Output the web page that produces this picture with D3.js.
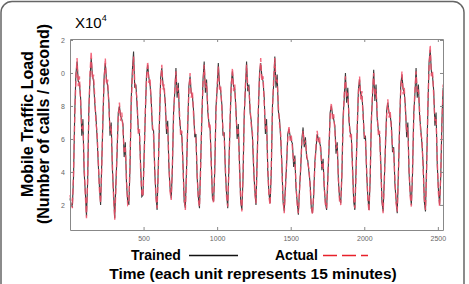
<!DOCTYPE html>
<html>
<head>
<meta charset="utf-8">
<script src="https://cdn.jsdelivr.net/npm/d3@7"></script>
<style>
  body { margin: 0; background: #fff; }
  svg { display: block; font-family: "Liberation Sans", Arial, sans-serif; }
</style>
</head>
<body>
<svg width="469" height="284"></svg>
<script>
// one sample every 8 time units (15 min each), values in units of 10^4 calls/s
const step = 8;

const actual = [
  2.6, 2.2,
  1.8, 3.9, 7.2, 9.6, 10.9, 9.2, 9.8, 8.3, 6.6, 6.9, 4.4, 2.6,
  1.2, 3.6, 7.4, 10.0, 11.3, 9.6, 9.9, 8.6, 7.0, 6.4, 4.8, 2.9,
  2.1, 4.3, 7.5, 9.5, 10.9, 9.3, 9.6, 8.0, 6.5, 6.8, 4.5, 2.5,
  1.1, 3.0, 5.4, 7.3, 8.2, 7.1, 7.6, 6.6, 5.2, 5.5, 3.6, 2.0,
  2.1, 4.6, 8.0, 9.8, 11.0, 9.5, 9.0, 8.4, 6.3, 6.6, 4.1, 2.7,
  2.5, 4.8, 7.8, 9.6, 10.7, 9.4, 9.7, 8.1, 6.9, 6.2, 4.3, 2.4,
  1.8, 4.0, 7.3, 9.4, 10.5, 9.0, 9.3, 7.9, 6.6, 6.8, 4.6, 2.8,
  2.3, 4.5, 7.4, 9.0, 10.1, 8.8, 9.1, 7.6, 6.2, 6.5, 4.2, 2.4,
  1.7, 3.9, 7.0, 8.9, 10.0, 8.5, 8.9, 7.4, 6.4, 6.0, 4.0, 2.3,
  1.9, 4.2, 7.5, 9.3, 10.5, 9.1, 9.4, 8.0, 6.7, 6.9, 4.4, 2.6,
  2.1, 4.4, 7.6, 9.2, 10.4, 9.0, 9.2, 7.8, 6.5, 6.1, 4.3, 2.5,
  1.9, 4.1, 7.3, 9.1, 10.3, 8.9, 9.3, 7.5, 6.3, 6.6, 4.2, 2.4,
  1.6, 3.9, 7.2, 9.3, 10.5, 9.2, 9.0, 7.9, 6.8, 6.4, 4.5, 2.7,
  2.1, 4.5, 7.9, 9.7, 10.9, 9.5, 9.8, 8.2, 6.6, 6.9, 4.4, 2.5,
  2.0, 4.3, 7.7, 9.6, 10.9, 9.4, 9.6, 8.0, 6.9, 6.3, 4.2, 2.3,
  1.5, 2.9, 4.6, 6.0, 6.8, 5.9, 6.2, 5.4, 4.6, 4.8, 3.3, 2.0,
  1.5, 2.8, 4.4, 5.8, 6.5, 5.7, 5.9, 5.1, 4.5, 4.2, 3.1, 1.9,
  1.4, 2.7, 4.3, 5.6, 6.5, 5.8, 6.1, 5.2, 4.3, 4.6, 3.2, 2.0,
  1.8, 3.4, 5.6, 7.3, 8.2, 7.2, 7.5, 6.5, 5.4, 5.6, 3.7, 2.2,
  2.0, 4.0, 7.0, 8.8, 9.8, 8.5, 8.8, 7.4, 6.1, 6.4, 4.1, 2.4,
  1.8, 3.8, 6.8, 8.7, 9.8, 8.4, 8.9, 7.3, 6.3, 5.9, 4.2, 2.3,
  1.6, 3.7, 6.9, 8.9, 10.0, 8.6, 9.0, 7.5, 6.2, 6.5, 4.3, 2.4,
  1.5, 3.3, 5.8, 7.4, 8.4, 7.3, 7.7, 6.6, 5.5, 5.2, 3.6, 2.1,
  1.6, 3.8, 7.0, 9.0, 10.1, 8.7, 9.1, 7.6, 6.4, 6.7, 4.3, 2.5,
  1.9, 4.1, 7.2, 9.0, 10.1, 8.8, 9.0, 7.7, 6.3, 6.0, 4.2, 2.4,
  1.7, 4.2, 8.0, 10.3, 11.7, 9.8, 10.1, 8.6, 7.1, 7.3, 4.7, 2.7,
  1.9, 4.0, 6.9, 9.3
];

const trained = [
  2.4, 2.0,
  1.9, 3.7, 7.5, 9.9, 10.7, 9.5, 9.4, 8.5, 6.2, 7.2, 4.0, 2.8,
  1.3, 3.4, 7.8, 9.7, 10.9, 9.9, 9.5, 8.2, 7.4, 6.1, 4.5, 3.1,
  2.0, 4.6, 7.2, 9.8, 10.6, 9.6, 9.2, 8.3, 6.2, 7.0, 4.2, 2.7,
  1.2, 3.3, 5.1, 7.6, 8.0, 7.4, 7.2, 6.9, 4.9, 5.8, 3.3, 2.2,
  2.0, 4.3, 8.4, 10.2, 11.3, 9.1, 9.3, 8.0, 6.6, 6.3, 4.4, 2.5,
  2.6, 5.1, 7.5, 9.9, 10.5, 9.7, 9.3, 8.4, 6.6, 6.5, 4.0, 2.6,
  1.7, 4.3, 7.0, 9.7, 10.3, 9.3, 9.0, 8.2, 6.3, 7.1, 4.3, 3.0,
  2.4, 4.2, 7.7, 8.8, 10.3, 8.5, 9.4, 7.3, 6.5, 6.2, 4.5, 2.2,
  1.8, 4.2, 6.7, 9.2, 9.8, 8.8, 8.6, 7.7, 6.1, 6.3, 3.7, 2.5,
  1.8, 4.5, 7.2, 9.6, 10.7, 8.8, 9.6, 7.7, 7.0, 6.6, 4.7, 2.4,
  2.2, 4.1, 7.9, 9.0, 10.6, 9.3, 8.9, 8.1, 6.2, 6.4, 4.0, 2.7,
  1.8, 4.4, 7.0, 9.4, 10.1, 9.2, 9.0, 7.8, 6.0, 6.9, 4.5, 2.2,
  1.7, 3.6, 7.5, 9.0, 10.7, 8.9, 9.3, 7.6, 7.1, 6.1, 4.2, 2.9,
  2.0, 4.8, 7.6, 10.0, 10.6, 9.8, 9.5, 8.5, 6.3, 7.2, 4.1, 2.7,
  2.1, 4.0, 8.0, 9.3, 11.0, 9.1, 9.9, 7.7, 7.2, 6.0, 4.5, 2.2,
  1.6, 3.1, 4.4, 6.3, 6.6, 6.2, 5.9, 5.7, 4.3, 5.0, 3.0, 2.2,
  1.4, 3.0, 4.2, 6.0, 6.7, 5.5, 6.1, 4.9, 4.7, 4.0, 3.3, 1.8,
  1.5, 2.5, 4.6, 5.4, 6.3, 6.0, 5.8, 5.5, 4.1, 4.8, 3.0, 2.1,
  1.7, 3.6, 5.3, 7.6, 8.0, 7.5, 7.2, 6.8, 5.1, 5.8, 3.5, 2.4,
  2.1, 3.8, 7.3, 8.5, 10.0, 8.2, 9.1, 7.1, 6.4, 6.1, 4.4, 2.2,
  1.7, 4.1, 6.5, 9.0, 9.6, 8.7, 8.6, 7.6, 6.0, 6.2, 3.9, 2.5,
  1.7, 3.5, 7.2, 8.6, 10.2, 8.3, 9.3, 7.2, 6.5, 6.2, 4.6, 2.2,
  1.6, 3.5, 5.5, 7.7, 8.2, 7.6, 7.4, 6.9, 5.2, 5.5, 3.3, 2.3,
  1.5, 4.0, 6.7, 9.3, 9.9, 9.0, 8.8, 7.9, 6.1, 7.0, 4.0, 2.7,
  2.0, 3.9, 7.5, 8.7, 10.3, 8.5, 9.3, 7.4, 6.6, 5.7, 4.5, 2.2,
  1.6, 4.5, 7.7, 10.6, 11.4, 10.1, 9.8, 8.9, 6.8, 7.6, 4.4, 2.9,
  2.0, 3.8, 7.2, 9.1
];

const xTicks = [500, 1000, 1500, 2000, 2500];
const yTicks = [2, 4, 6, 8, 10, 12];
const yTickLabels = ["2", "4", "6", "8", "0", "2"];

const svg = d3.select("svg");
const plotLeft = 70, plotRight = 443, plotTop = 39, plotBottom = 230;

const x = d3.scaleLinear().domain([0, 2535]).range([plotLeft, plotRight]);
const y = d3.scaleLinear().domain([0.48, 12.06]).range([plotBottom, plotTop]);

// outer rounded frame (bottom edge falls outside the picture)
svg.append("rect")
  .attr("x", 1).attr("y", 1.5)
  .attr("width", 463).attr("height", 360)
  .attr("rx", 11)
  .attr("fill", "none")
  .attr("stroke", "#666")
  .attr("stroke-width", 1.5);

// series
const line = d3.line()
  .x((d, i) => x(i * step))
  .y(d => y(d));

svg.append("path")
  .datum(trained)
  .attr("fill", "none")
  .attr("stroke", "#3a3a3a")
  .attr("stroke-width", 1.1)
  .attr("d", line);

svg.append("path")
  .datum(actual)
  .attr("fill", "none")
  .attr("stroke", "#f25068")
  .attr("stroke-opacity", 0.85)
  .attr("stroke-width", 1.4)
  .attr("stroke-dasharray", "6,3")
  .attr("d", line);

// axes (ticks inward, boxed)
const axisStyle = g => {
  g.select(".domain").attr("stroke", "#888");
  g.selectAll(".tick line").attr("stroke", "#888");
  g.selectAll("text").attr("fill", "#666").style("font-size", "7px");
};

svg.append("g")
  .attr("transform", `translate(0,${plotBottom})`)
  .call(d3.axisBottom(x).tickValues(xTicks).tickSizeInner(-3).tickSizeOuter(0).tickPadding(6)
    .tickFormat(d3.format("d")))
  .call(axisStyle);

svg.append("g")
  .attr("transform", `translate(0,${plotTop})`)
  .call(d3.axisTop(x).tickValues(xTicks).tickSizeInner(-3).tickSizeOuter(0).tickFormat(""))
  .call(axisStyle);

svg.append("g")
  .attr("transform", `translate(${plotLeft},0)`)
  .call(d3.axisLeft(y).tickValues(yTicks).tickSizeInner(-3).tickSizeOuter(0).tickPadding(5)
    .tickFormat((d, i) => yTickLabels[i]))
  .call(axisStyle);

svg.append("g")
  .attr("transform", `translate(${plotRight},0)`)
  .call(d3.axisRight(y).tickValues(yTicks).tickSizeInner(-3).tickSizeOuter(0).tickFormat(""))
  .call(axisStyle);

// exponent
svg.append("text")
  .attr("x", 75).attr("y", 28)
  .style("font-size", "15px")
  .text("X10")
  .append("tspan")
  .attr("dy", -7)
  .style("font-size", "9px")
  .text("4");

// y label
svg.append("text")
  .attr("transform", "translate(33,124) rotate(-90)")
  .attr("text-anchor", "middle")
  .style("font-size", "16px").style("font-weight", "bold")
  .text("Mobile Traffic Load");
svg.append("text")
  .attr("transform", "translate(49,124) rotate(-90)")
  .attr("text-anchor", "middle")
  .style("font-size", "16px").style("font-weight", "bold")
  .text("(Number of calls / second)");

// legend
svg.append("text")
  .attr("x", 131).attr("y", 260)
  .style("font-size", "14px").style("font-weight", "bold")
  .text("Trained");
svg.append("line")
  .attr("x1", 189).attr("x2", 238).attr("y1", 255.5).attr("y2", 255.5)
  .attr("stroke", "#111").attr("stroke-width", 1.5);

svg.append("text")
  .attr("x", 275).attr("y", 260)
  .style("font-size", "14px").style("font-weight", "bold")
  .text("Actual");
svg.append("line")
  .attr("x1", 323).attr("x2", 368).attr("y1", 255.5).attr("y2", 255.5)
  .attr("stroke", "#e8202a").attr("stroke-width", 1.5)
  .attr("stroke-dasharray", "14,5");

// x label
svg.append("text")
  .attr("x", 253).attr("y", 279)
  .attr("text-anchor", "middle")
  .style("font-size", "15.5px").style("font-weight", "bold")
  .text("Time (each unit represents 15 minutes)");
</script>
</body>
</html>
